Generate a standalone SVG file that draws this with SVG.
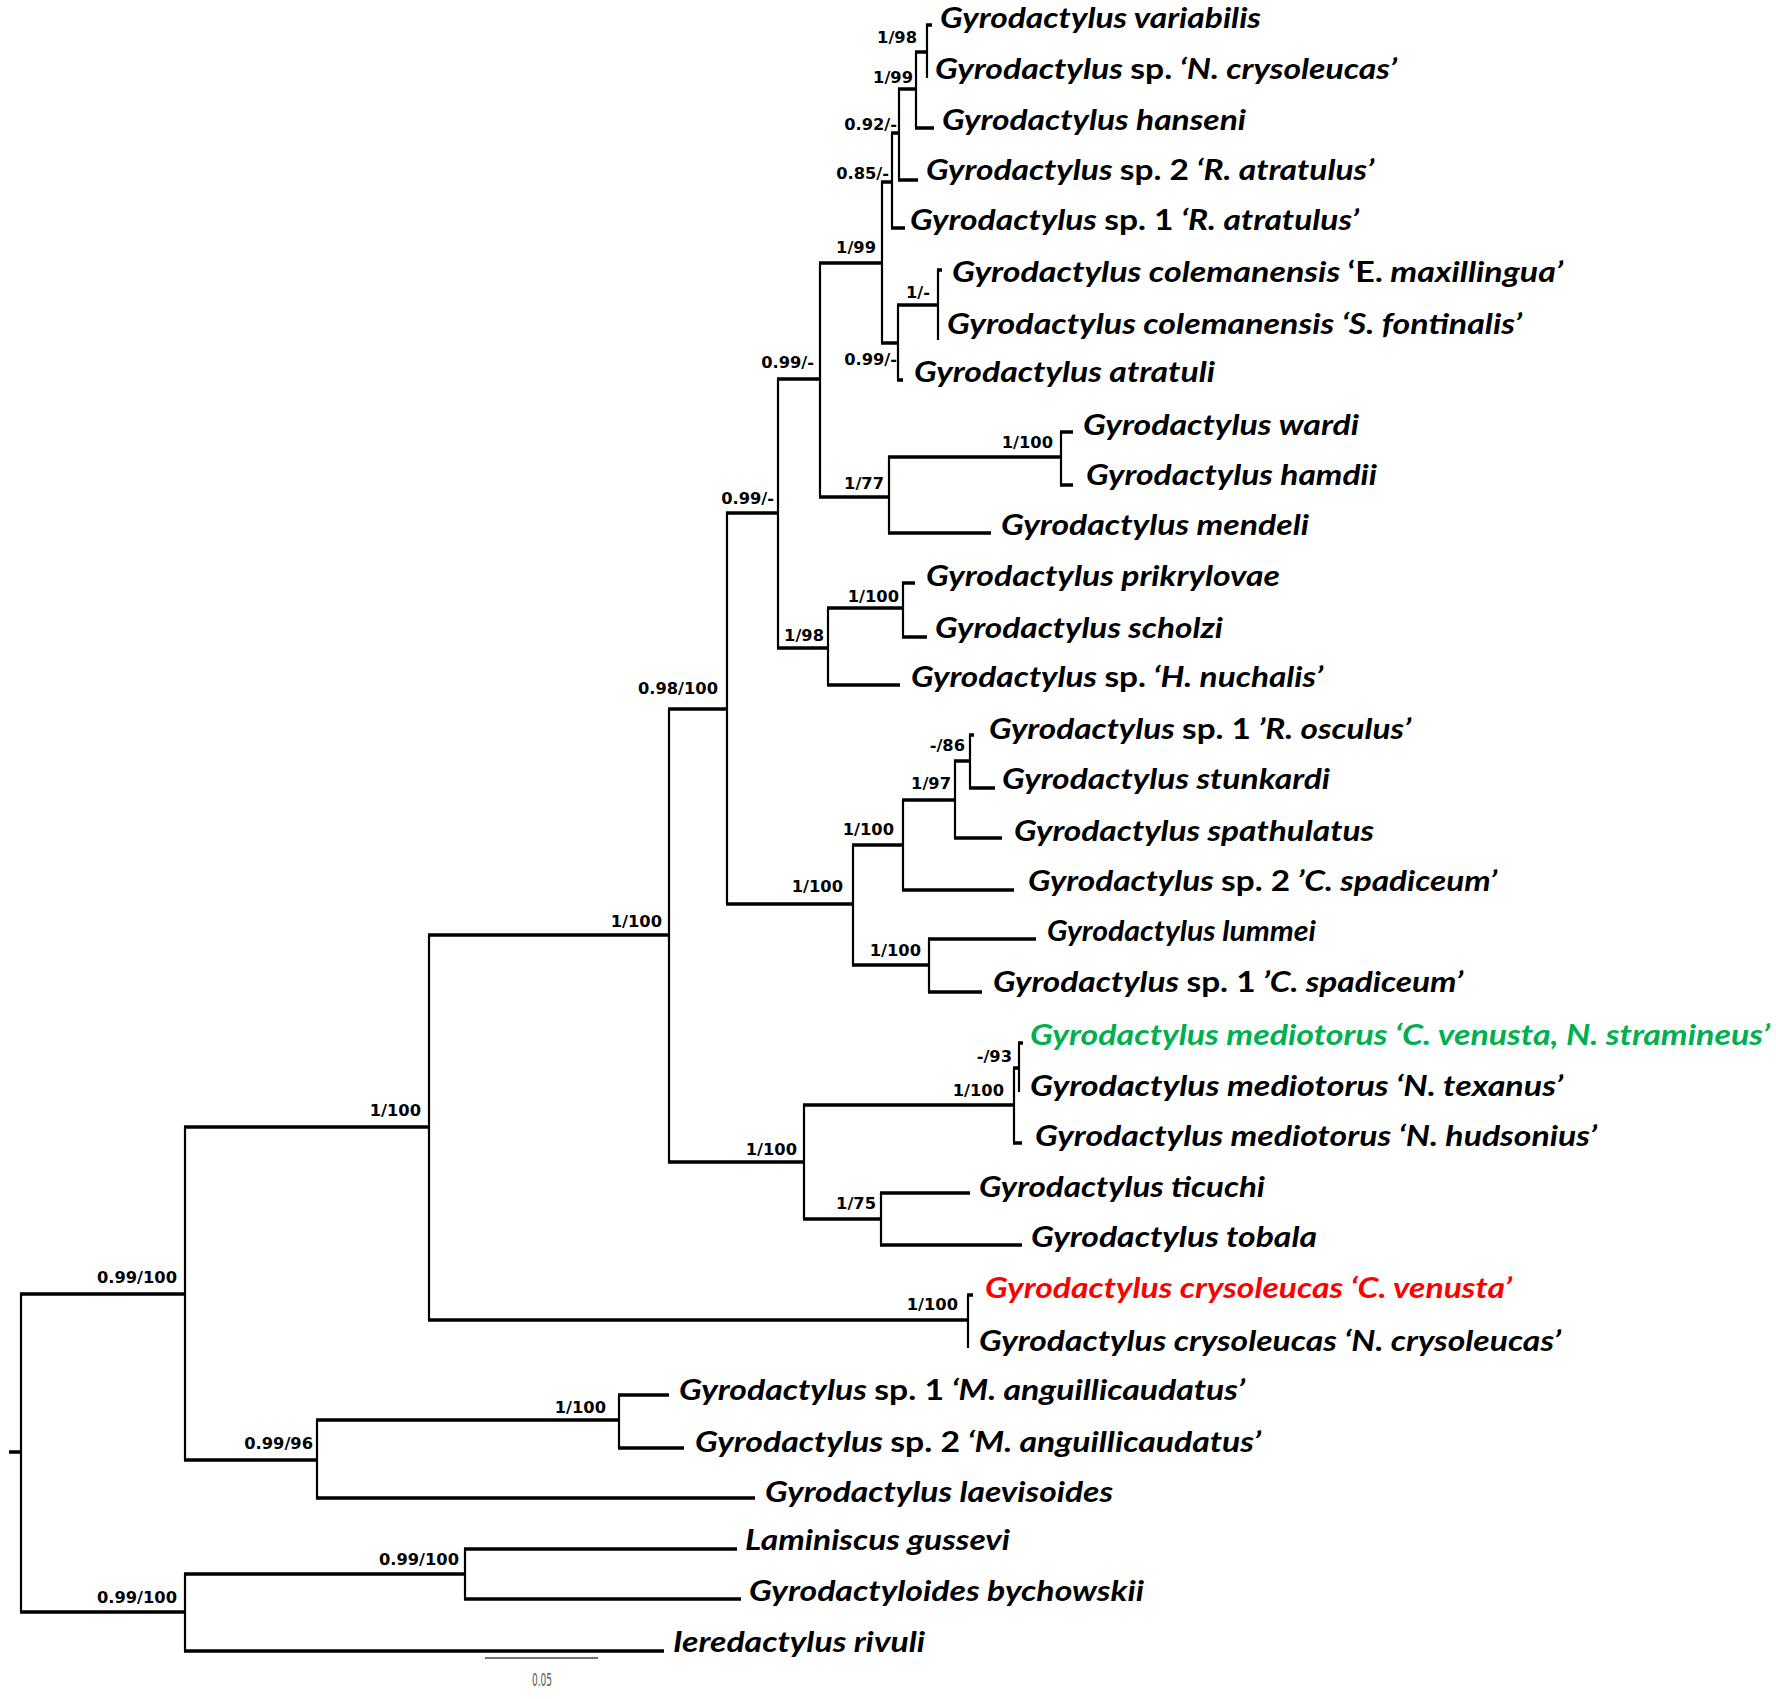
<svg xmlns="http://www.w3.org/2000/svg" width="1776" height="1699" viewBox="0 0 1776 1699">
<style>
.bg{fill:#ffffff}
.h{stroke:#000;stroke-width:3.3;fill:none;stroke-linecap:butt}
.v{stroke:#000;stroke-width:2.2;fill:none}
.t{font-family:Lato,"Open Sans","Liberation Sans",sans-serif;font-weight:700;font-style:italic;font-size:29px;fill:#000}
.r{font-style:normal}
.s{font-family:"DejaVu Sans","Liberation Sans",sans-serif;font-weight:700;font-size:16.3px;fill:#000;text-anchor:end}
.green{fill:#00b050}
.red{fill:#ff0000}
.sb{stroke:#444;stroke-width:1.4}
.sbt{font-family:"DejaVu Sans Condensed","DejaVu Sans",sans-serif;font-size:17px;fill:#555;text-anchor:middle}
</style>
<rect class="bg" x="0" y="0" width="1776" height="1699"/>
<g id="connectors">
<path class="h" d="M9 1452H22M20 1294H186M20 1612H186M184 1127H430M184 1460H318M316 1420H620M618 1395H669M618 1448H684M316 1498H755M184 1574H466M464 1549H737M464 1599H741M184 1651H664M428 935H670M428 1320H969M967 1295H973M668 709H728M668 1162H805M803 1105H1015M1013 1068H1020M1018 1043H1023M1013 1143H1022M803 1219H882M880 1193H970M880 1245H1022M726 513H779M726 904H854M852 845H904M902 800H956M954 761H971M969 735H974M969 788H995M954 838H1002M902 890H1014M852 965H930M928 939H1036M928 992H982M777 379H821M777 648H829M827 608H904M902 583H915M902 637H927M827 685H900M819 263H883M819 497H890M888 457H1062M1060 432H1073M1060 485H1073M888 533H991M881 182H893M891 228H905M891 133H900M898 180H918M898 89H917M915 128H934M915 52H928M926 25H932M881 343H899M897 380H903M897 305H939M937 270H942"/>
<path class="v" d="M21 1294V1612M185 1127V1460M185 1574V1651M317 1420V1498M619 1395V1448M465 1549V1599M429 935V1320M968 1295V1348M669 709V1162M727 513V904M804 1105V1219M1014 1068V1143M1019 1043V1092M881 1193V1245M778 379V648M853 845V965M903 800V890M955 761V838M970 735V788M929 939V992M820 263V497M828 608V685M903 583V637M882 182V343M889 457V533M1061 432V485M892 133V228M899 89V180M916 52V128M927 25V78M898 305V380M938 270V340"/>
<path class="sb" d="M485 1658H598"/>
<text class="sbt" x="542" y="1686" textLength="20" lengthAdjust="spacingAndGlyphs">0.05</text>
</g>
<g id="taxa">
<g id="t01"><text class="t" x="940" y="28" textLength="321" lengthAdjust="spacingAndGlyphs">Gyrodactylus variabilis</text></g>
<g id="t02"><text class="t" x="935" y="79" textLength="462" lengthAdjust="spacingAndGlyphs">Gyrodactylus <tspan class="r">sp.</tspan> ‘N. crysoleucas’</text></g>
<g id="t03"><text class="t" x="942" y="130" textLength="304" lengthAdjust="spacingAndGlyphs">Gyrodactylus hanseni</text></g>
<g id="t04"><text class="t" x="926" y="180" textLength="448" lengthAdjust="spacingAndGlyphs">Gyrodactylus <tspan class="r">sp. 2</tspan> ‘R. atratulus’</text></g>
<g id="t05"><text class="t" x="910" y="230" textLength="449" lengthAdjust="spacingAndGlyphs">Gyrodactylus <tspan class="r">sp. 1</tspan> ‘R. atratulus’</text></g>
<g id="t06"><text class="t" x="952" y="282" textLength="611" lengthAdjust="spacingAndGlyphs">Gyrodactylus colemanensis <tspan class="r">‘E.</tspan> maxillingua’</text></g>
<g id="t07"><text class="t" x="947" y="334" textLength="575" lengthAdjust="spacingAndGlyphs">Gyrodactylus colemanensis ‘S. fontinalis’</text></g>
<g id="t08"><text class="t" x="914" y="382" textLength="301" lengthAdjust="spacingAndGlyphs">Gyrodactylus atratuli</text></g>
<g id="t09"><text class="t" x="1083" y="435" textLength="276" lengthAdjust="spacingAndGlyphs">Gyrodactylus wardi</text></g>
<g id="t10"><text class="t" x="1086" y="485" textLength="291" lengthAdjust="spacingAndGlyphs">Gyrodactylus hamdii</text></g>
<g id="t11"><text class="t" x="1001" y="535" textLength="308" lengthAdjust="spacingAndGlyphs">Gyrodactylus mendeli</text></g>
<g id="t12"><text class="t" x="926" y="586" textLength="354" lengthAdjust="spacingAndGlyphs">Gyrodactylus prikrylovae</text></g>
<g id="t13"><text class="t" x="935" y="638" textLength="288" lengthAdjust="spacingAndGlyphs">Gyrodactylus scholzi</text></g>
<g id="t14"><text class="t" x="911" y="687" textLength="412" lengthAdjust="spacingAndGlyphs">Gyrodactylus <tspan class="r">sp.</tspan> ‘H. nuchalis’</text></g>
<g id="t15"><text class="t" x="989" y="739" textLength="422" lengthAdjust="spacingAndGlyphs">Gyrodactylus <tspan class="r">sp. 1</tspan> ’R. osculus’</text></g>
<g id="t16"><text class="t" x="1002" y="789" textLength="328" lengthAdjust="spacingAndGlyphs">Gyrodactylus stunkardi</text></g>
<g id="t17"><text class="t" x="1014" y="841" textLength="360" lengthAdjust="spacingAndGlyphs">Gyrodactylus spathulatus</text></g>
<g id="t18"><text class="t" x="1028" y="891" textLength="469" lengthAdjust="spacingAndGlyphs">Gyrodactylus <tspan class="r">sp. 2</tspan> ’C. spadiceum’</text></g>
<g id="t19"><text class="t" x="1047" y="941" textLength="269" lengthAdjust="spacingAndGlyphs">Gyrodactylus lummei</text></g>
<g id="t20"><text class="t" x="993" y="992" textLength="470" lengthAdjust="spacingAndGlyphs">Gyrodactylus <tspan class="r">sp. 1</tspan> ’C. spadiceum’</text></g>
<g id="t21"><text class="t green" x="1030" y="1045" textLength="740" lengthAdjust="spacingAndGlyphs">Gyrodactylus mediotorus ‘C. venusta, N. stramineus’</text></g>
<g id="t22"><text class="t" x="1030" y="1096" textLength="533" lengthAdjust="spacingAndGlyphs">Gyrodactylus mediotorus ‘N. texanus’</text></g>
<g id="t23"><text class="t" x="1035" y="1146" textLength="562" lengthAdjust="spacingAndGlyphs">Gyrodactylus mediotorus ‘N. hudsonius’</text></g>
<g id="t24"><text class="t" x="979" y="1197" textLength="286" lengthAdjust="spacingAndGlyphs">Gyrodactylus ticuchi</text></g>
<g id="t25"><text class="t" x="1031" y="1247" textLength="286" lengthAdjust="spacingAndGlyphs">Gyrodactylus tobala</text></g>
<g id="t26"><text class="t red" x="985" y="1298" textLength="527" lengthAdjust="spacingAndGlyphs">Gyrodactylus crysoleucas ‘C. venusta’</text></g>
<g id="t27"><text class="t" x="979" y="1351" textLength="582" lengthAdjust="spacingAndGlyphs">Gyrodactylus crysoleucas ‘N. crysoleucas’</text></g>
<g id="t28"><text class="t" x="679" y="1400" textLength="566" lengthAdjust="spacingAndGlyphs">Gyrodactylus <tspan class="r">sp. 1</tspan> ‘M. anguillicaudatus’</text></g>
<g id="t29"><text class="t" x="695" y="1452" textLength="566" lengthAdjust="spacingAndGlyphs">Gyrodactylus <tspan class="r">sp. 2</tspan> ‘M. anguillicaudatus’</text></g>
<g id="t30"><text class="t" x="765" y="1502" textLength="348" lengthAdjust="spacingAndGlyphs">Gyrodactylus laevisoides</text></g>
<g id="t31"><text class="t" x="745" y="1550" textLength="265" lengthAdjust="spacingAndGlyphs">Laminiscus gussevi</text></g>
<g id="t32"><text class="t" x="749" y="1601" textLength="395" lengthAdjust="spacingAndGlyphs">Gyrodactyloides bychowskii</text></g>
<g id="t33"><text class="t" x="673" y="1652" textLength="252" lengthAdjust="spacingAndGlyphs">Ieredactylus rivuli</text></g>
</g>
<g id="supports">
<g id="n01"><text class="s" x="917" y="43">1/98</text></g>
<g id="n02"><text class="s" x="913" y="83">1/99</text></g>
<g id="n03"><text class="s" x="897" y="130">0.92/-</text></g>
<g id="n04"><text class="s" x="889" y="179">0.85/-</text></g>
<g id="n05"><text class="s" x="876" y="253">1/99</text></g>
<g id="n06"><text class="s" x="930" y="298">1/-</text></g>
<g id="n07"><text class="s" x="897" y="365">0.99/-</text></g>
<g id="n08"><text class="s" x="814" y="368">0.99/-</text></g>
<g id="n09"><text class="s" x="1053" y="448">1/100</text></g>
<g id="n10"><text class="s" x="884" y="489">1/77</text></g>
<g id="n11"><text class="s" x="774" y="504">0.99/-</text></g>
<g id="n12"><text class="s" x="899" y="602">1/100</text></g>
<g id="n13"><text class="s" x="824" y="641">1/98</text></g>
<g id="n14"><text class="s" x="718" y="694">0.98/100</text></g>
<g id="n15"><text class="s" x="965" y="751">-/86</text></g>
<g id="n16"><text class="s" x="951" y="789">1/97</text></g>
<g id="n17"><text class="s" x="894" y="835">1/100</text></g>
<g id="n18"><text class="s" x="843" y="892">1/100</text></g>
<g id="n19"><text class="s" x="662" y="927">1/100</text></g>
<g id="n20"><text class="s" x="921" y="956">1/100</text></g>
<g id="n21"><text class="s" x="1012" y="1062">-/93</text></g>
<g id="n22"><text class="s" x="1004" y="1096">1/100</text></g>
<g id="n23"><text class="s" x="421" y="1116">1/100</text></g>
<g id="n24"><text class="s" x="797" y="1155">1/100</text></g>
<g id="n25"><text class="s" x="876" y="1209">1/75</text></g>
<g id="n26"><text class="s" x="177" y="1283">0.99/100</text></g>
<g id="n27"><text class="s" x="958" y="1310">1/100</text></g>
<g id="n28"><text class="s" x="606" y="1413">1/100</text></g>
<g id="n29"><text class="s" x="313" y="1449">0.99/96</text></g>
<g id="n30"><text class="s" x="459" y="1565">0.99/100</text></g>
<g id="n31"><text class="s" x="177" y="1603">0.99/100</text></g>
</g>
</svg>
